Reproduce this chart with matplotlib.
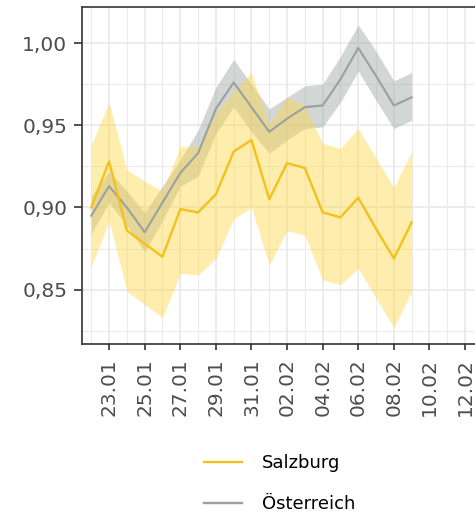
import numpy as np
import pandas as pd
import matplotlib
matplotlib.use("Agg")
import matplotlib.pyplot as plt
import matplotlib.dates as mdates
from matplotlib.lines import Line2D
from matplotlib.ticker import MultipleLocator, FixedLocator

plt.rcParams['font.family'] = ['DejaVu Sans']

# data: 22.01 - 09.02
dates = pd.date_range("2022-01-22", "2022-02-09", freq="D")

sbg_mid = [0.900, 0.928, 0.886, 0.878, 0.870, 0.899, 0.897, 0.908, 0.934, 0.941,
           0.905, 0.927, 0.924, 0.897, 0.894, 0.906, 0.887, 0.869, 0.891]
sbg_hi = [0.938, 0.964, 0.923, 0.916, 0.910, 0.937, 0.937, 0.957, 0.971, 0.982,
          0.950, 0.967, 0.962, 0.939, 0.936, 0.948, 0.930, 0.912, 0.934]
sbg_lo = [0.864, 0.892, 0.849, 0.841, 0.833, 0.860, 0.859, 0.869, 0.893, 0.900,
          0.865, 0.886, 0.883, 0.856, 0.853, 0.863, 0.845, 0.827, 0.849]

at_mid = [0.895, 0.913, 0.900, 0.885, 0.903, 0.921, 0.933, 0.960, 0.976, 0.961,
          0.946, 0.954, 0.961, 0.962, 0.978, 0.997, 0.980, 0.962, 0.967]
at_hi = [0.907, 0.922, 0.910, 0.897, 0.913, 0.929, 0.947, 0.973, 0.990, 0.975,
         0.960, 0.967, 0.974, 0.975, 0.992, 1.011, 0.995, 0.977, 0.982]
at_lo = [0.884, 0.903, 0.889, 0.873, 0.892, 0.913, 0.919, 0.945, 0.961, 0.946,
         0.933, 0.941, 0.948, 0.949, 0.964, 0.983, 0.965, 0.948, 0.953]

tick_dates = pd.date_range("2022-01-23", "2022-02-12", freq="2D")
minor_dates = pd.date_range("2022-01-22", "2022-02-13", freq="2D")

yellow = "#F2C21B"
yellow_fill = "#FFD84A"
grey = "#9BA19D"
grey_fill = "#A7AFAA"

fig = plt.figure(figsize=(4.75, 5.16), dpi=100)
ax = fig.add_axes([82 / 475, 1 - 344 / 516, 430 / 475, 337 / 516])

ax.fill_between(dates, at_lo, at_hi, color=grey_fill, alpha=0.5, lw=0, zorder=2)
ax.fill_between(dates, sbg_lo, sbg_hi, color=yellow_fill, alpha=0.45, lw=0, zorder=3)
ax.plot(dates, at_mid, color=grey, lw=1.5, zorder=4)
ax.plot(dates, sbg_mid, color=yellow, lw=1.7, zorder=5)

x0 = pd.Timestamp("2022-01-21 11:30")
ax.set_xlim(x0, x0 + pd.Timedelta(days=430 / 17.8))
ax.set_ylim(0.817, 1.0219)

ax.xaxis.set_major_locator(FixedLocator(mdates.date2num(tick_dates)))
ax.xaxis.set_minor_locator(FixedLocator(mdates.date2num(minor_dates)))
ax.xaxis.set_major_formatter(mdates.DateFormatter("%d.%m"))
ax.yaxis.set_major_locator(MultipleLocator(0.05))
ax.yaxis.set_minor_locator(MultipleLocator(0.025))
ax.yaxis.set_major_formatter(lambda v, p: f"{v:.2f}".replace(".", ","))

ax.grid(which="major", color="#EBEBEB", lw=1.3, zorder=0)
ax.grid(which="minor", color="#EBEBEB", lw=0.8, zorder=0)
ax.set_axisbelow(True)

for s in ["left", "top", "bottom"]:
    ax.spines[s].set_color("#333333")
    ax.spines[s].set_linewidth(1.2)
ax.spines["right"].set_visible(False)

ax.tick_params(which="major", direction="out", width=1.2, color="#333333",
               labelsize=14.5, labelcolor="#4D4D4D")
ax.tick_params(axis="y", which="major", length=5.5, pad=5)
ax.tick_params(axis="x", which="major", length=4.5, pad=5.5, labelrotation=90)
ax.tick_params(which="minor", length=0)

handles = [Line2D([], [], color=yellow, lw=1.7), Line2D([], [], color=grey, lw=1.7)]
fig.legend(handles, ["Salzburg", "Österreich"], loc="center",
           bbox_to_anchor=(0.589, 0.063), frameon=False, fontsize=13,
           handlelength=2.1, handletextpad=1.1, labelspacing=1.28)

fig.savefig("out.png", dpi=100)
